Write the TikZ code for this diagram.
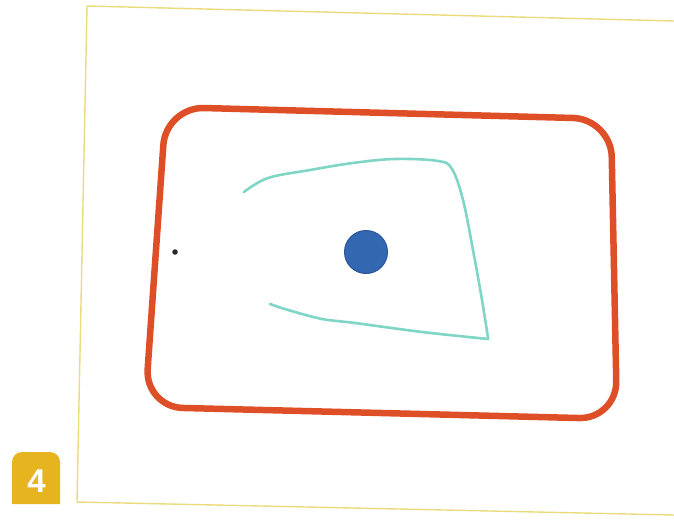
\documentclass[tikz,border=0pt]{standalone}
\usepackage{fontspec}
\setmainfont{Liberation Sans}
\definecolor{framey}{HTML}{EADB7C}
\definecolor{badgey}{HTML}{E6B41E}
\definecolor{boxred}{HTML}{DF4F27}
\definecolor{tealline}{HTML}{7FD6C6}
\definecolor{dotblue}{HTML}{3467B2}
\definecolor{dotedge}{HTML}{2A5598}
\tikzset{
  frameline/.style={draw=framey, line width=1.4pt},
  redbox/.style={draw=boxred, line width=6.5pt, rounded corners=38pt, line join=round},
  tealpath/.style={draw=tealline, line width=2.6pt, line cap=round, line join=round},
}
\begin{document}
\begin{tikzpicture}[x=1pt,y=-1pt]
\useasboundingbox[fill=white] (0,0) rectangle (674,519);
% page frame
\draw[frameline] (674,21) -- (87,6) -- (77,502) -- (674,515);
% badge
\fill[badgey] (12,504) -- (12,466) [rounded corners=10pt] -- (12,452) -- (60,452) [sharp corners] -- (60,504) -- cycle;
\node[text=white, font=\bfseries\fontsize{33}{33}\selectfont, inner sep=0pt] (num) at (36.5,481) {4};
% red rounded box
\draw[redbox] (166,107) -- (611,119) -- (617,419) -- (145,407) -- cycle;
% teal line
\draw[tealpath] plot[smooth, tension=0.6] coordinates {(244,192) (268,178) (310,170) (353,163) (395,159) (438,161) (452,169) (463,200) (473,250) (482,300) (488,338)}
  -- plot[smooth, tension=0.5] coordinates {(488,339) (422,332) (355,323) (322,319) (288,310) (270,304)};
% blue dot
\node[circle, fill=dotblue, draw=dotedge, line width=1pt, minimum size=43pt, inner sep=0pt] (blue) at (366,252) {};
% small black dot
\node[circle, fill=black!85, minimum size=5.5pt, inner sep=0pt] (dot) at (175,252) {};
\end{tikzpicture}
\end{document}
